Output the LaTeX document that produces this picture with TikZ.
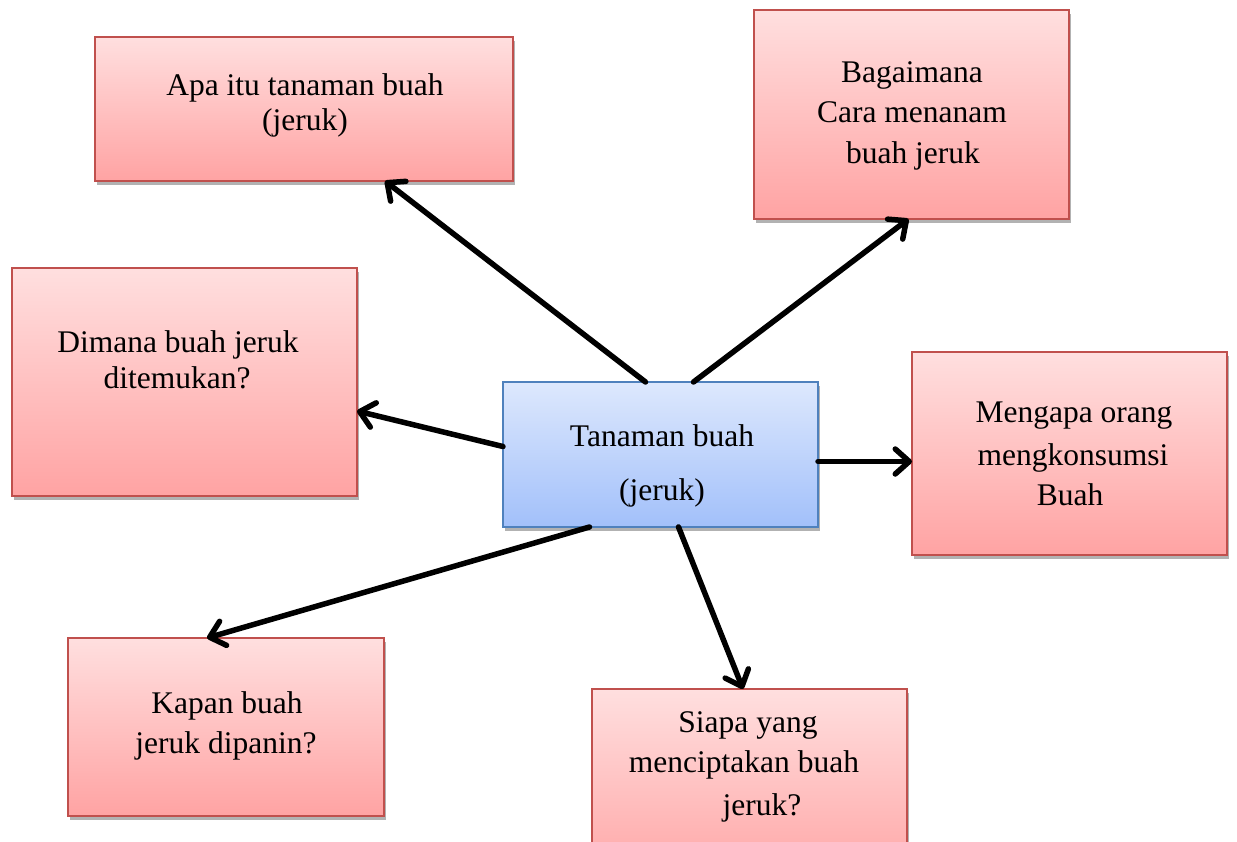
\documentclass[tikz,border=0pt]{standalone}
\usepackage{fontspec}
\setmainfont{Liberation Serif}
\usetikzlibrary{arrows.meta,shadows}
\definecolor{pinkT}{HTML}{FFDFDF}
\definecolor{pinkB}{HTML}{FFA3A3}
\definecolor{redL}{HTML}{C0504D}
\definecolor{blueT}{HTML}{DDE8FD}
\definecolor{blueB}{HTML}{A2C0FA}
\definecolor{blueL}{HTML}{4F81BD}
\begin{document}
\begin{tikzpicture}[x=1pt,y=-1pt,
 qbox/.style={rectangle, draw=redL, line width=2pt, top color=pinkT, bottom color=pinkB,
   inner sep=0pt, outer sep=0pt,
   drop shadow={shadow xshift=1.5pt, shadow yshift=-3.5pt, opacity=0.3, fill=black}},
 cbox/.style={qbox, draw=blueL, top color=blueT, bottom color=blueB},
 txt/.style={anchor=base, inner sep=0pt, font=\fontsize{31.5}{38}\selectfont},
 arr/.style={line width=5.5pt, line cap=round,
   -{Straight Barb[length=14pt,width=25pt,line cap=round,line join=round]}}]
\useasboundingbox (0,0) rectangle (1237,841);
\clip (0,0) rectangle (1237,841);
% boxes
\node[qbox, minimum width=418pt, minimum height=144pt] (b1) at (304,109) {};
\node[qbox, minimum width=315pt, minimum height=209pt] (b2) at (911.5,114.5) {};
\node[qbox, minimum width=345pt, minimum height=228pt] (b3) at (184.5,382) {};
\node[cbox, minimum width=315pt, minimum height=145pt] (c) at (660.5,454.5) {};
\node[qbox, minimum width=315pt, minimum height=203pt] (b5) at (1069.5,453.5) {};
\node[qbox, minimum width=316pt, minimum height=178pt] (b6) at (226,727) {};
\node[qbox, minimum width=315pt, minimum height=200pt] (b7) at (749.5,789) {};
% texts
\node[txt] (t1a) at (305,95) {Apa itu tanaman buah};
\node[txt] (t1b) at (305,130) {(jeruk)};
\node[txt] (t2a) at (912,82) {Bagaimana};
\node[txt] (t2b) at (912,122) {Cara menanam};
\node[txt] (t2c) at (913,163) {buah jeruk};
\node[txt] (t3a) at (178,352) {Dimana buah jeruk};
\node[txt] (t3b) at (177,388) {ditemukan?};
\node[txt] (tca) at (662,446) {Tanaman buah};
\node[txt] (tcb) at (662,500) {(jeruk)};
\node[txt] (t5a) at (1074,422) {Mengapa orang};
\node[txt] (t5b) at (1073,465) {mengkonsumsi};
\node[txt] (t5c) at (1070,505) {Buah};
\node[txt] (t6a) at (227,713) {Kapan buah};
\node[txt] (t6b) at (226,753) {jeruk dipanin?};
\node[txt] (t7a) at (748,732) {Siapa yang};
\node[txt] (t7b) at (744,772) {menciptakan buah};
\node[txt] (t7c) at (762,815) {jeruk?};
% arrows
\draw[arr] ([xshift=-15pt]c.north) -- ([xshift=81pt]b1.south);
\draw[arr] ([xshift=33pt]c.north) -- ([xshift=-3pt]b2.south);
\draw[arr] ([yshift=8pt]c.west) -- ([yshift=-29pt]b3.east);
\draw[arr] ([yshift=-7pt]c.east) -- ([yshift=-7pt]c.east -| b5.west);
\draw[arr] ([xshift=-71pt]c.south) -- ([xshift=-19pt]b6.north);
\draw[arr] ([xshift=18pt]c.south) -- ([xshift=-6.5pt]b7.north);
\end{tikzpicture}
\end{document}
